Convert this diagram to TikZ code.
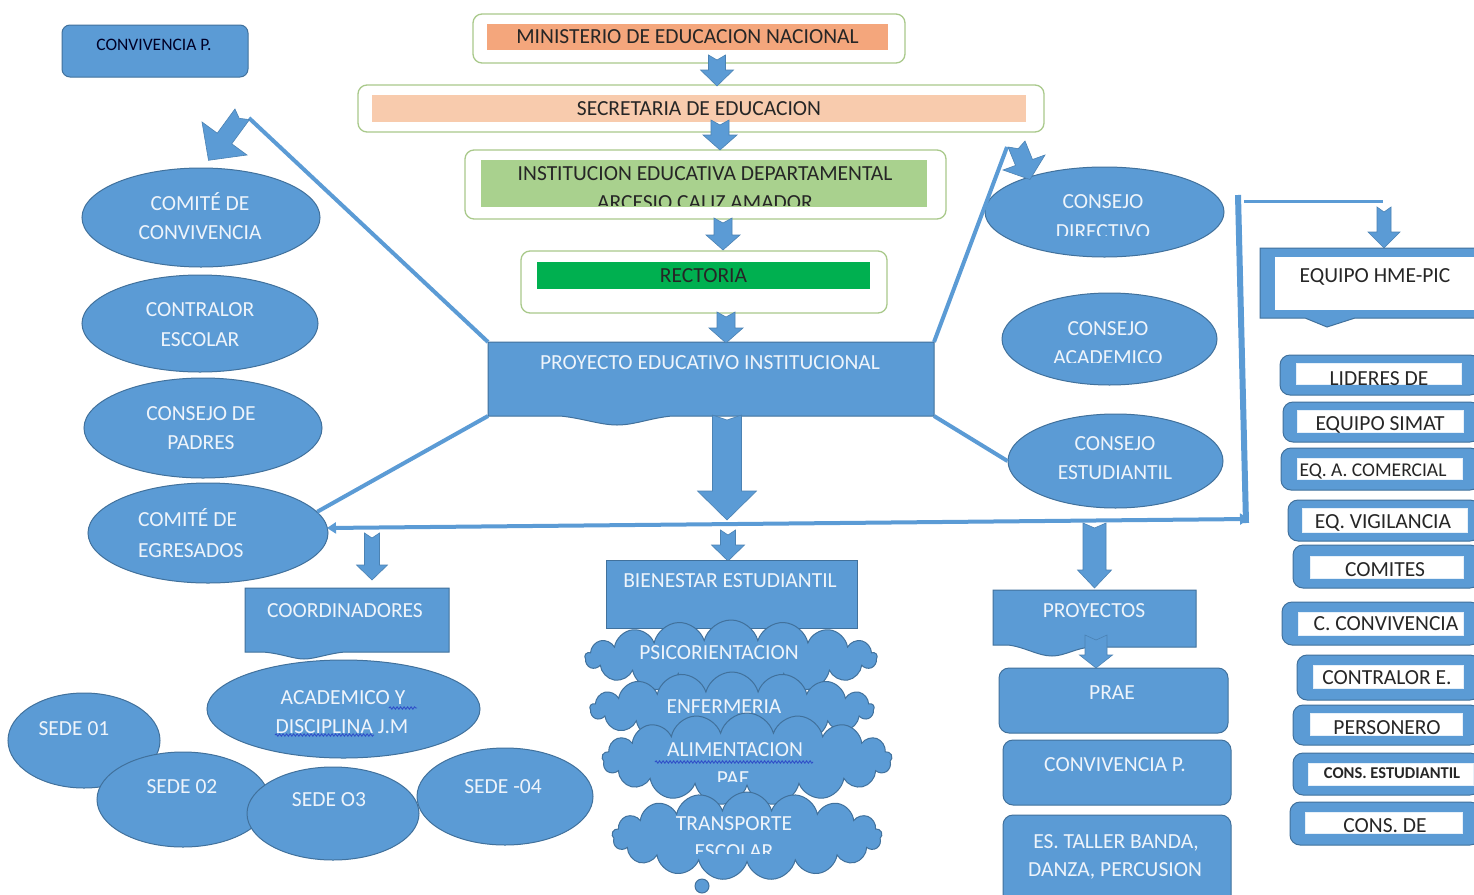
\documentclass[tikz,border=0pt]{standalone}
\usepackage{fontspec}
\setmainfont{Carlito}
\usetikzlibrary{shapes.geometric,shapes.symbols,decorations.pathmorphing,arrows.meta}
\definecolor{bfill}{HTML}{5B9BD5}
\definecolor{bdraw}{HTML}{41719C}
\definecolor{frameg}{HTML}{A9C98B}
\definecolor{orng}{HTML}{F4A67C}
\definecolor{peach}{HTML}{F8CBAD}
\definecolor{lgreen}{HTML}{A9D18E}
\definecolor{dgreen}{HTML}{00B050}
\definecolor{dtext}{HTML}{262626}
\definecolor{wtext}{HTML}{EEF4FB}
\definecolor{squigc}{HTML}{3050C8}
\tikzset{
  fs/.style={font=\fontsize{21.5}{30}\selectfont},
  frame/.style={draw=frameg, line width=1.3pt, rounded corners=9pt, fill=white, inner sep=0pt},
  band/.style={inner sep=0pt, fs, text=dtext},
  bshape/.style={draw=bdraw, fill=bfill, line width=1pt},
  bell/.style={bshape, ellipse, inner sep=0pt},
  brect/.style={bshape, rectangle, inner sep=0pt},
  bround/.style={bshape, rectangle, rounded corners=10pt, inner sep=0pt},
  inwhite/.style={fill=white, draw=white!85!bfill, line width=0.6pt, inner sep=0pt},
  wt/.style={fs, text=wtext, inner sep=0pt},
  dt/.style={fs, text=dtext, inner sep=0pt},
  link/.style={draw=bfill, line width=4pt},
  barrow/.style={fill=bfill, draw=bdraw!60!bfill, line width=0.6pt},
  bcloud/.style={bshape, cloud, cloud puffs=17, cloud puff arc=150, cloud ignores aspect, inner sep=0pt},
  squig/.style={draw=squigc, line width=0.9pt, decorate, decoration={snake, amplitude=1.2pt, segment length=3.5pt}},
  ghost/.style={inner sep=0pt, outer sep=0pt, rectangle}
}
\newcommand{\bb}[7]{\node[#1, minimum width={(#4)-(#2)}, minimum height={(#5)-(#3)}] (#6) at ({((#2)+(#4))/2},{((#3)+(#5))/2}) {#7};}
\newcommand{\tx}[5][wt]{\node[#1, anchor=base] (#4) at (#2,{(#3)+7}) {#5};}
\newcommand{\varr}[6]{\filldraw[barrow] ({#1-#4},#2) -- (#1,{#2+5}) -- ({#1+#4},#2) -- ({#1+#4},#6) -- ({#1+#5},#6) -- (#1,#3) -- ({#1-#5},#6) -- ({#1-#4},#6) -- cycle;}
\newcommand{\rb}[8]{\bb{bround}{#2}{#3}{1480}{#4}{#1}{}\bb{inwhite}{#5}{#6}{#7}{#8}{#1-in}{}}
\begin{document}
\begin{tikzpicture}[x=1pt,y=-1pt]
\useasboundingbox (0,0) rectangle (1474,894);
\fill[white] (0,0) rectangle (1474,894);

% ---- top-left box
\bb{bround, rounded corners=8pt}{62}{25}{248}{77}{convtop}{}
\tx[dt, font=\fontsize{17.5}{20}\selectfont, text=black!85!blue]{154}{43}{convtopt}{CONVIVENCIA P.}

% ---- top chain
\bb{frame}{473}{14}{905}{63}{fmin}{}
\bb{band, fill=orng}{487}{24}{888}{50}{min}{MINISTERIO DE EDUCACION NACIONAL}
\bb{frame}{358}{85}{1044}{132}{fsec}{}
\bb{band, fill=peach}{372}{95}{1026}{122}{sec}{SECRETARIA DE EDUCACION}
\bb{frame}{465}{150}{946}{219}{finst}{}
\bb{band, fill=lgreen}{481}{160}{927}{207}{inst}{}
\begin{scope}
\clip (481,150) rectangle (927,205);
\tx[dt]{705}{173}{inst1}{INSTITUCION EDUCATIVA DEPARTAMENTAL}
\tx[dt]{705}{202}{inst2}{ARCESIO CALIZ AMADOR}
\end{scope}
\bb{frame}{521}{251}{887}{313}{frect}{}
\bb{band, fill=dgreen}{537}{262}{870}{289}{rect}{RECTORIA}

% ---- left ellipses
\bb{bell}{82}{168}{320}{267}{e1}{}
\tx{200}{203.5}{e1a}{COMITÉ DE}
\tx{200}{232.5}{e1b}{CONVIVENCIA}
\bb{bell}{82}{275}{318}{372}{e2}{}
\tx{200}{309}{e2a}{CONTRALOR}
\tx{200}{339}{e2b}{ESCOLAR}
\bb{bell}{84}{378}{322}{478}{e3}{}
\tx{201}{413}{e3a}{CONSEJO DE}
\tx{201}{442}{e3b}{PADRES}
\bb{bell}{88}{483}{328}{583}{e4}{}
\node[wt, anchor=base west] (e4a) at (138,526) {COMITÉ DE};
\node[wt, anchor=base west] (e4b) at (138,557) {EGRESADOS};

% ---- right ellipses
\bb{bell}{985}{167}{1224}{257}{cdir}{}
\begin{scope}
\clip (985,160) rectangle (1225,235.5);
\tx{1103}{201.5}{cdir1}{CONSEJO}
\tx{1103}{231}{cdir2}{DIRECTIVO}
\end{scope}
\bb{bell}{1002}{293}{1217}{385}{cacad}{}
\begin{scope}
\clip (1002,290) rectangle (1217,362);
\tx{1108}{328.5}{cacad1}{CONSEJO}
\tx{1108}{357}{cacad2}{ACADEMICO}
\end{scope}
\bb{bell}{1008}{414}{1223}{508}{cest}{}
\tx{1115}{443.5}{cest1}{CONSEJO}
\tx{1115}{472.5}{cest2}{ESTUDIANTIL}

% ---- PEI
\filldraw[bshape] (488,342) -- (934,342) -- (934,416) -- (672,416) .. controls (650,418) and (635,425) .. (617,425) .. controls (600,425) and (582,418) .. (560,416) -- (488,416) -- cycle;
\node[ghost, minimum width=446, minimum height=74] (pei) at (711,379) {};
\tx{710}{362.5}{peit}{PROYECTO EDUCATIVO INSTITUCIONAL}

% ---- connectors from PEI
\coordinate (latail) at (249,118);
\coordinate (ratail) at (1007,147);
\draw[link] (pei.north west) -- (latail);
\draw[link] (pei.south west) -- (e4.11);
\draw[link] (pei.north east) -- (ratail);
\draw[link] (pei.south east) -- (cest.west);
\filldraw[barrow] (234.95,108.98) -- (239.2,118.3) -- (249.45,119.62) -- (231.75,143.82) -- (247,155) -- (208.5,160.3) -- (202,122) -- (217.25,133.18) -- cycle;
\filldraw[barrow] (1008,147) -- (1018.2,148.7) -- (1025,141) -- (1032.5,159.5) -- (1045,155) -- (1030,179.5) -- (1003,170) -- (1015.5,165.5) -- cycle;

% ---- vertical block arrows of the chain
\varr{717}{55}{86}{8.5}{16.5}{70}
\varr{720}{120}{150}{9}{17}{135}
\varr{723}{218}{250}{9}{17}{235}
\varr{726}{312}{343}{9}{17}{328}
\varr{727}{415}{520}{14.5}{29.5}{491}

% ---- long horizontal and vertical connectors
\coordinate (vtop) at (1238,195);
\coordinate (vbot) at (1246,523);
\coordinate (hlft) at (327,528);
\coordinate (hrgt) at (1249,519);
\coordinate (htop) at (1244,201);
\coordinate (hend) at (1383,201);
\draw[bfill, line width=6pt] (vtop) -- (vbot);
\draw[bfill, line width=4pt, {Triangle[length=9pt,width=11pt]}-{Triangle[length=9pt,width=11pt]}] (hlft) -- (hrgt);
\draw[bfill, line width=3pt] (htop) -- (hend);
\varr{1384}{207}{248}{7}{16}{232}

% ---- EQUIPO HME-PIC
\filldraw[bshape] (1260,248) -- (1480,248) -- (1480,318) -- (1355,318) -- (1327,327) -- (1305,318) -- (1260,318) -- cycle;
\fill[white] (1275,257) rectangle (1480,310);
\node[ghost, minimum width=220, minimum height=70] (hme) at (1370,283) {};
\tx[dt]{1375}{275}{hmet}{EQUIPO HME-PIC}

% ---- right column
\rb{r1}{1280}{355}{395}{1296}{363}{1461}{384}
\tx[dt]{1379}{378}{r1t}{LIDERES DE}
\rb{r2}{1283}{402}{442}{1297}{410}{1463}{432}
\tx[dt]{1380}{423}{r2t}{EQUIPO SIMAT}
\rb{r3}{1281}{448}{490}{1297}{458}{1462}{479}
\tx[dt, font=\fontsize{19.5}{24}\selectfont]{1373}{469.5}{r3t}{EQ. A. COMERCIAL}
\rb{r4}{1288}{500}{541}{1302}{508}{1467}{532}
\tx[dt]{1383}{521}{r4t}{EQ. VIGILANCIA}
\rb{r5}{1293}{545}{588}{1310}{556}{1463}{578}
\tx[dt]{1385}{569}{r5t}{COMITES}
\rb{r6}{1282}{602}{645}{1298}{612}{1463}{635}
\tx[dt]{1386}{623}{r6t}{C. CONVIVENCIA}
\rb{r7}{1297}{655}{700}{1313}{665}{1463}{688}
\tx[dt]{1387}{677}{r7t}{CONTRALOR E.}
\rb{r8}{1293}{705}{745}{1310}{713}{1462}{735}
\tx[dt]{1387}{727}{r8t}{PERSONERO}
\rb{r9}{1293}{753}{795}{1308}{763}{1473}{785}
\tx[dt, font=\fontsize{16.5}{20}\selectfont\bfseries]{1392}{771.5}{r9t}{CONS. ESTUDIANTIL}
\rb{r10}{1290}{802}{845}{1305}{812}{1462}{833}
\tx[dt]{1385}{825}{r10t}{CONS. DE}

% ---- bottom centre: bienestar
\varr{728}{530}{561}{7.5}{16.5}{545}
\bb{brect}{606}{560}{857}{628}{bien}{}
\tx{730}{580}{bient}{BIENESTAR ESTUDIANTIL}
\bb{bcloud}{585}{620}{877}{695}{c1}{}
\tx{719}{652}{c1t}{PSICORIENTACION}
\bb{bcloud}{590}{672}{874}{745}{c2}{}
\tx{724}{706}{c2t}{ENFERMERIA}
\bb{bcloud}{602}{713}{892}{805}{c3}{}
\tx{735}{749}{c3t}{ALIMENTACION}
\begin{scope}
\clip (700,760) rectangle (770,781);
\tx{733}{778}{c3u}{PAE}
\end{scope}
\draw[squig] (655,762) -- (813,762);
\bb{bcloud}{612}{792}{882}{880}{c4}{}
\tx{734}{823}{c4t}{TRANSPORTE}
\begin{scope}
\clip (680,835) rectangle (790,853);
\tx{734}{851}{c4u}{ESCOLAR}
\end{scope}
\filldraw[bshape] (702,886) circle (7);

% ---- bottom left
\varr{372}{533}{580}{7.5}{15.5}{565}
\filldraw[bshape] (245,588) -- (449,588) -- (449,652) -- (345,652) .. controls (330,653) and (315,659) .. (304,659) .. controls (293,659) and (280,653) .. (262,652) -- (245,652) -- cycle;
\node[ghost, minimum width=204, minimum height=64] (coord) at (347,620) {};
\tx{345}{610}{coordt}{COORDINADORES}
\bb{bell}{207}{660}{480}{758}{acad}{}
\tx{343}{697}{acad1}{ACADEMICO Y}
\tx{342}{726}{acad2}{DISCIPLINA J.M}
\draw[squig] (389,708) -- (417,708);
\draw[squig] (275,735) -- (374,735);
\bb{bell}{8}{693}{160}{788}{s1}{}
\tx{74}{728}{s1t}{SEDE 01}
\bb{bell}{97}{752}{269}{847}{s2}{}
\tx{182}{786}{s2t}{SEDE 02}
\bb{bell}{247}{767}{419}{860}{s3}{}
\tx{329}{799}{s3t}{SEDE O3}
\bb{bell}{417}{748}{593}{845}{s4}{}
\tx{503}{786}{s4t}{SEDE -04}

% ---- bottom right
\varr{1094.5}{523}{588}{11.5}{17}{570}
\filldraw[bshape] (993,590) -- (1196,590) -- (1196,647) -- (1092,647) .. controls (1075,648) and (1065,656) .. (1052,656) .. controls (1038,656) and (1025,647) .. (1008,645) -- (993,645) -- cycle;
\node[ghost, minimum width=203, minimum height=58] (proy) at (1094.5,619) {};
\tx{1094}{610}{proyt}{PROYECTOS}
\bb{bround}{999}{668}{1228}{733}{prae}{}
\tx{1112}{692}{praet}{PRAE}
\varr{1096}{635}{668}{11}{16.5}{655}
\bb{bround}{1003}{740}{1231}{805}{convp}{}
\tx{1115}{764.5}{convpt}{CONVIVENCIA P.}
\bb{bround}{1003}{815}{1231}{905}{taller}{}
\tx{1116}{841}{taller1}{ES. TALLER BANDA,}
\tx{1115}{869}{taller2}{DANZA, PERCUSION}
\end{tikzpicture}
\end{document}
